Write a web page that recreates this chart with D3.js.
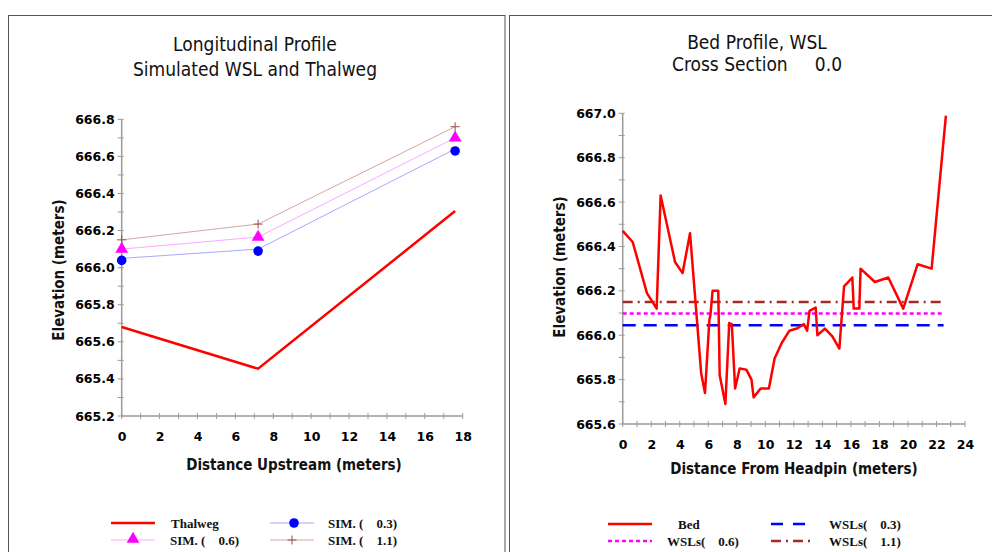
<!DOCTYPE html>
<html>
<head>
<meta charset="utf-8">
<script src="https://cdn.jsdelivr.net/npm/d3@7"></script>
<style>
  body { margin: 0; background: #fff; }
  svg text { white-space: pre; }
  .tick text { font-family: "DejaVu Sans", Verdana, sans-serif; font-weight: bold; font-size: 12.5px; fill: #000; }
  .title { font-family: "DejaVu Sans Condensed", "DejaVu Sans", sans-serif; font-stretch: condensed; font-size: 19px; fill: #111; }
  .axtitle { font-family: "DejaVu Sans Condensed", "DejaVu Sans", sans-serif; font-stretch: condensed; font-weight: bold; font-size: 15px; fill: #111; }
  .leg { font-family: "Liberation Serif", "Times New Roman", serif; font-weight: bold; font-size: 13px; fill: #111; }
</style>
</head>
<body>
<svg id="chart" width="992" height="552"></svg>
<script>
// left panel: longitudinal profile
var upDist = [0, 7.2, 17.6]
var thalweg = [665.68, 665.455, 666.305]
var sim03 = [666.05, 666.10, 666.64]
var sim06 = [666.10, 666.165, 666.70]
var sim11 = [666.15, 666.235, 666.76]

// right panel: bed profile at cross section 0.0
var bedDist = [0, 0.7, 1.7, 2.38, 2.66, 3.67, 4.2, 4.72, 5.5, 5.77, 6.08, 6.15, 6.3, 6.7, 6.8, 7.2, 7.47, 7.65, 7.88, 8.2,
	8.67, 9.03, 9.18, 9.67, 10.25, 10.65, 11.15, 11.68, 12.22, 12.7, 12.93, 13.1, 13.53, 13.65, 14.18, 14.7, 15.19, 15.52,
	16.1, 16.2, 16.59, 16.68, 17.68, 18.62, 19.67, 20.68, 21.66, 22.66]
var bedElev = [666.47, 666.42, 666.19, 666.12, 666.63, 666.33, 666.28, 666.46, 665.83, 665.74, 666.07, 666.09, 666.2, 666.2, 665.82, 665.69, 666.055, 666.05, 665.76, 665.85,
	665.845, 665.80, 665.72, 665.76, 665.76, 665.895, 665.965, 666.02, 666.03, 666.05, 666.02, 666.11, 666.125, 666.0, 666.03, 665.995, 665.94, 666.22,
	666.26, 666.12, 666.12, 666.30, 666.24, 666.26, 666.12, 666.32, 666.30, 666.99]
var wslFlows = ['0.3', '0.6', '1.1']
var wslLevels = [666.045, 666.098, 666.15]
var wslExtent = [0, 22.5]

var leftXTicks = d3.range(0, 19, 2)
var leftYTicks = d3.range(665.2, 666.81, 0.2)
var rightXTicks = d3.range(0, 25, 2)
var rightYTicks = d3.range(665.6, 667.01, 0.2)

var svg = d3.select('#chart')
var axisColor = '#9a9a9a'

// panel frames
svg.append('rect').attr('x', 8.5).attr('y', 15.5).attr('width', 496.5).attr('height', 600)
	.style('fill', 'none').style('stroke', '#555')
svg.append('rect').attr('x', 509.5).attr('y', 15.5).attr('width', 520).attr('height', 600)
	.style('fill', 'none').style('stroke', '#555')

function drawAxes(g, x, y, xTicks, yTicks, xMinor, yMinor) {
	var h = y.range()[0]
	var xAxis = g.append('g').attr('transform', 'translate(0,' + h + ')')
		.call(d3.axisBottom(x).tickValues(xTicks).tickFormat(d3.format('d')).tickSize(0).tickPadding(15))
	var yAxis = g.append('g')
		.call(d3.axisLeft(y).tickValues(yTicks).tickFormat(d3.format('.1f')).tickSize(0).tickPadding(7))
	xAxis.select('.domain').remove()
	yAxis.select('.domain').remove()
	xAxis.selectAll('.tick text').attr('dy', '0.8em')
	// minor + major ticks crossing the axis lines
	g.selectAll('.xt').data(xMinor).enter().append('line')
		.attr('x1', d => x(d)).attr('x2', d => x(d))
		.attr('y1', h - 3).attr('y2', h + 3)
		.style('stroke', axisColor)
	g.selectAll('.yt').data(yMinor).enter().append('line')
		.attr('x1', -4).attr('x2', 2)
		.attr('y1', d => y(d)).attr('y2', d => y(d))
		.style('stroke', axisColor)
	g.append('line').attr('x1', 0).attr('x2', x.range()[1]).attr('y1', h).attr('y2', h)
		.style('stroke', axisColor).attr('stroke-width', 1.5)
	g.append('line').attr('x1', 0).attr('x2', 0).attr('y1', 0).attr('y2', h)
		.style('stroke', axisColor).attr('stroke-width', 1.5)
}

// ---------------- left chart ----------------
var gL = svg.append('g').attr('transform', 'translate(121.7,119.3)')
var xL = d3.scaleLinear().domain([0, 18]).range([0, 341])
var yL = d3.scaleLinear().domain([665.2, 666.8]).range([296.7, 0])
drawAxes(gL, xL, yL, leftXTicks, leftYTicks, d3.range(0, 18.5, 1), d3.range(665.2, 666.85, 0.1))

var lineL = d3.line().x((d, i) => xL(upDist[i])).y(d => yL(d))
var simSeries = [
	{ name: 'SIM. (    1.1)', vals: sim11, line: '#d4a6a6', mark: '#a04848', shape: 'plus' },
	{ name: 'SIM. (    0.6)', vals: sim06, line: '#ffa8ff', mark: '#ff00ff', shape: 'tri' },
	{ name: 'SIM. (    0.3)', vals: sim03, line: '#a8a8ff', mark: '#0000ff', shape: 'circ' }
]
simSeries.forEach(function (s) {
	gL.append('path').attr('d', lineL(s.vals)).style('fill', 'none').style('stroke', s.line).attr('stroke-width', 1)
})
function marker(g, shape, color, cx, cy) {
	if (shape == 'circ') {
		g.append('circle').attr('cx', cx).attr('cy', cy + 2).attr('r', 4.8).style('fill', color)
	} else if (shape == 'tri') {
		g.append('path').attr('d', d3.symbol().type(d3.symbolTriangle).size(70)())
			.attr('transform', 'translate(' + cx + ',' + cy + ')').style('fill', color)
	} else {
		g.append('path').attr('d', 'M-4.5,0H4.5M0,-4.5V4.5')
			.attr('transform', 'translate(' + cx + ',' + cy + ')')
			.style('stroke', color).attr('stroke-width', 1).style('fill', 'none')
	}
}
simSeries.forEach(function (s) {
	s.vals.forEach(function (v, i) { marker(gL, s.shape, s.mark, xL(upDist[i]), yL(v)) })
})
gL.append('path').attr('d', lineL(thalweg)).style('fill', 'none').style('stroke', '#ff0000').attr('stroke-width', 2.5)

svg.append('text').attr('class', 'title').attr('x', 255).attr('y', 51).attr('text-anchor', 'middle').text('Longitudinal Profile')
svg.append('text').attr('class', 'title').attr('x', 255).attr('y', 76).attr('text-anchor', 'middle').text('Simulated WSL and Thalweg')
svg.append('text').attr('class', 'axtitle').attr('x', 294).attr('y', 470).attr('text-anchor', 'middle').text('Distance Upstream (meters)')
svg.append('text').attr('class', 'axtitle').attr('text-anchor', 'middle')
	.attr('transform', 'translate(64,270) rotate(-90)').text('Elevation (meters)')

// left legend
var legL = svg.append('g')
legL.append('line').attr('x1', 111).attr('x2', 155).attr('y1', 523).attr('y2', 523).style('stroke', '#ff0000').attr('stroke-width', 2.5)
legL.append('text').attr('class', 'leg').attr('x', 171).attr('y', 527.5).text('Thalweg')
legL.append('line').attr('x1', 111).attr('x2', 155).attr('y1', 540).attr('y2', 540).style('stroke', '#ffa8ff')
marker(legL, 'tri', '#ff00ff', 133, 539)
legL.append('text').attr('class', 'leg').attr('x', 170).attr('y', 544.5).text(simSeries[1].name)
legL.append('line').attr('x1', 270).attr('x2', 314).attr('y1', 523).attr('y2', 523).style('stroke', '#a8a8ff')
marker(legL, 'circ', '#0000ff', 294, 521)
legL.append('text').attr('class', 'leg').attr('x', 328).attr('y', 527.5).text(simSeries[2].name)
legL.append('line').attr('x1', 270).attr('x2', 314).attr('y1', 540).attr('y2', 540).style('stroke', '#d4a6a6')
marker(legL, 'plus', '#a04848', 292, 540)
legL.append('text').attr('class', 'leg').attr('x', 328).attr('y', 544.5).text(simSeries[0].name)

// ---------------- right chart ----------------
var gR = svg.append('g').attr('transform', 'translate(622.7,113.3)')
var xR = d3.scaleLinear().domain([0, 24]).range([0, 342.3])
var yR = d3.scaleLinear().domain([665.6, 667.0]).range([310.7, 0])
drawAxes(gR, xR, yR, rightXTicks, rightYTicks, d3.range(0, 24.5, 1), d3.range(665.6, 667.05, 0.1))

var wslStyle = [
	{ color: '#0000ff', dash: '13,8' },
	{ color: '#ff00ff', dash: '4,3' },
	{ color: '#a52a2a', dash: '10,5,2,5' }
]
wslLevels.forEach(function (lv, i) {
	gR.append('line').attr('x1', xR(wslExtent[0])).attr('x2', xR(wslExtent[1]))
		.attr('y1', yR(lv)).attr('y2', yR(lv))
		.style('stroke', wslStyle[i].color).style('stroke-dasharray', wslStyle[i].dash).attr('stroke-width', 2.5)
})
var lineR = d3.line().x((d, i) => xR(bedDist[i])).y(d => yR(d))
gR.append('path').attr('d', lineR(bedElev)).style('fill', 'none').style('stroke', '#ff0000')
	.attr('stroke-width', 2.5).style('stroke-linejoin', 'round')

svg.append('text').attr('class', 'title').attr('x', 757).attr('y', 49).attr('text-anchor', 'middle').text('Bed Profile, WSL')
svg.append('text').attr('class', 'title').attr('x', 757).attr('y', 71).attr('text-anchor', 'middle').text('Cross Section     0.0')
svg.append('text').attr('class', 'axtitle').attr('x', 794).attr('y', 474).attr('text-anchor', 'middle').text('Distance From Headpin (meters)')
svg.append('text').attr('class', 'axtitle').attr('text-anchor', 'middle')
	.attr('transform', 'translate(565,267) rotate(-90)').text('Elevation (meters)')

// right legend
var legR = svg.append('g')
legR.append('line').attr('x1', 608).attr('x2', 652).attr('y1', 524).attr('y2', 524).style('stroke', '#ff0000').attr('stroke-width', 2.5)
legR.append('text').attr('class', 'leg').attr('x', 678).attr('y', 528.5).text('Bed')
legR.append('line').attr('x1', 608).attr('x2', 652).attr('y1', 541).attr('y2', 541)
	.style('stroke', wslStyle[1].color).style('stroke-dasharray', wslStyle[1].dash).attr('stroke-width', 2.5)
legR.append('text').attr('class', 'leg').attr('x', 667).attr('y', 545.5).text('WSLs(    ' + wslFlows[1] + ')')
legR.append('line').attr('x1', 771).attr('x2', 815).attr('y1', 524).attr('y2', 524)
	.style('stroke', wslStyle[0].color).style('stroke-dasharray', '12,10').attr('stroke-width', 2.5)
legR.append('text').attr('class', 'leg').attr('x', 829).attr('y', 528.5).text('WSLs(    ' + wslFlows[0] + ')')
legR.append('line').attr('x1', 771).attr('x2', 815).attr('y1', 541).attr('y2', 541)
	.style('stroke', wslStyle[2].color).style('stroke-dasharray', wslStyle[2].dash).attr('stroke-width', 2.5)
legR.append('text').attr('class', 'leg').attr('x', 829).attr('y', 545.5).text('WSLs(    ' + wslFlows[2] + ')')
</script>
</body>
</html>
